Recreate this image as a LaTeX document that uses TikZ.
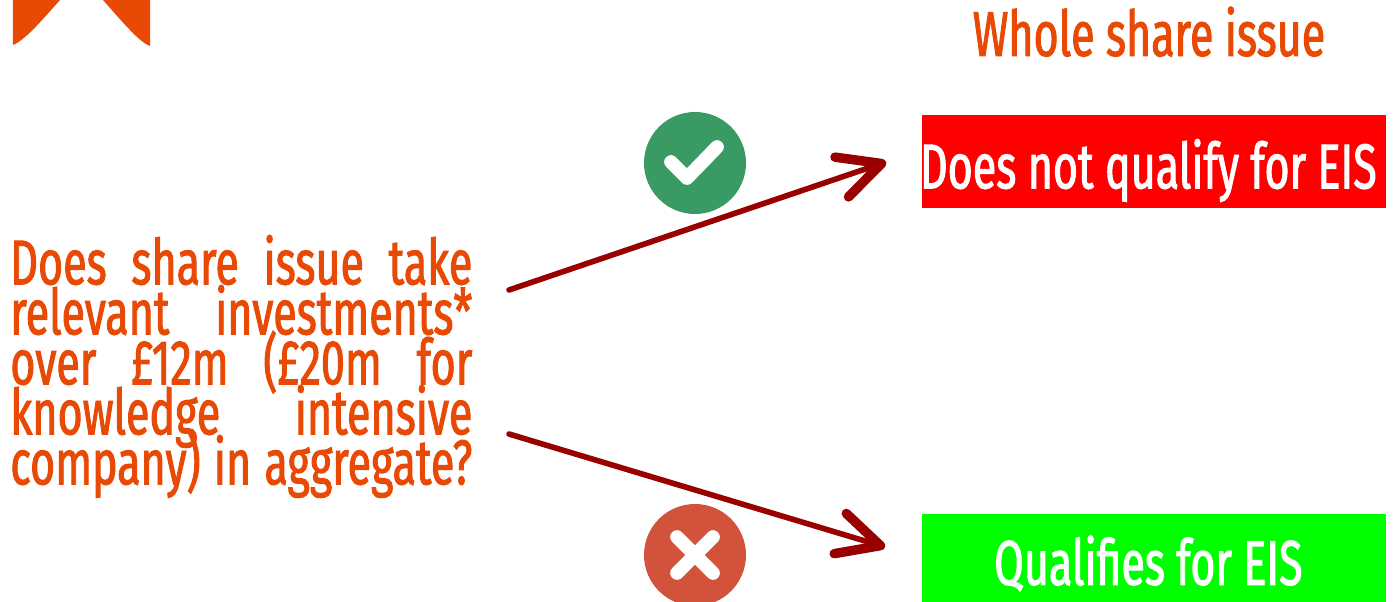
\documentclass[tikz,border=0pt]{standalone}
\usepackage{fontspec}
\usepackage{tikz}
\usetikzlibrary{arrows.meta, calc, positioning}
\setmainfont[FakeStretch=0.68, FakeBold=1.5]{Fira Sans}
\definecolor{flameorange}{HTML}{E84A05}
\definecolor{darkarrow}{HTML}{990000}
\definecolor{yesgreen}{HTML}{3A9A64}
\definecolor{nored}{HTML}{D2523B}
\newcommand{\justline}[1]{\smash{\makebox[9.24cm][s]{#1}}}
\tikzset{
    bigtext/.style={font=\fontsize{36}{28.45}\selectfont},
    resultbox/.style={bigtext, text=white, minimum width=9.28cm, inner sep=0pt, anchor=north west, text height=1.06cm, text depth=0pt, execute at begin node=\hspace*{-0.24cm}},
    badge/.style={circle, minimum size=2.04cm, inner sep=0pt},
    flowarrow/.style={darkarrow, line width=3.2pt, line cap=round, -{Straight Barb[length=0.84cm, width=0.84cm, line width=5.4pt, round]}},
    badgemark/.style={white, line width=7.8pt, line cap=round, line join=round}
}

\begin{document}
\begin{tikzpicture}
    \useasboundingbox (0,0) rectangle (27.88,-12.04);

    % corner of the logo
    \fill[flameorange] (0.26,0) -- (0.26,-0.90) .. controls (0.5,-0.8) and (0.8,-0.45) .. (1.20,0) -- cycle;
    \fill[flameorange] (3.00,0) -- (3.00,-0.92) .. controls (2.8,-0.85) and (2.5,-0.5) .. (2.06,0) -- cycle;

    \node[bigtext, text=flameorange, align=left, anchor=north west, inner sep=0pt] (Question) at (0.20,-5.68)
        {\justline{Does share issue take}\\ \justline{relevant investments*}\\ \justline{over £12m (£20m for}\\ \justline{knowledge intensive}\\ \justline{company) in aggregate?}};

    \node[bigtext, text=flameorange, text height=1cm, text depth=0pt] (Heading) at (22.98,-0.62) {Whole share issue};
    \node[resultbox, fill=red, minimum height=1.86cm] (NoQualify) at (18.44,-2.30) {Does not qualify for EIS};
    \node[resultbox, fill=green, minimum height=1.76cm] (Qualify) at (18.44,-10.28) {Qualifies for EIS};

    \node[badge, fill=yesgreen] (YesBadge) at (13.90,-3.26) {};
    \node[badge, fill=nored] (NoBadge) at (13.90,-11.10) {};

    \draw[badgemark] ($(YesBadge)+(-0.48,0.02)$) -- ($(YesBadge)+(-0.16,-0.30)$) -- ($(YesBadge)+(0.44,0.32)$);
    \draw[badgemark] ($(NoBadge)+(-0.36,0.36)$) -- ($(NoBadge)+(0.36,-0.36)$);
    \draw[badgemark] ($(NoBadge)+(-0.36,-0.36)$) -- ($(NoBadge)+(0.36,0.36)$);

    \coordinate (YesFrom) at (10.18,-5.80);
    \coordinate (YesTo) at (17.72,-3.24);
    \coordinate (NoFrom) at (10.18,-8.68);
    \coordinate (NoTo) at (17.70,-10.94);

    \draw[flowarrow] (YesFrom) -- (YesTo);
    \draw[flowarrow] (NoFrom) -- (NoTo);
\end{tikzpicture}
\end{document}
